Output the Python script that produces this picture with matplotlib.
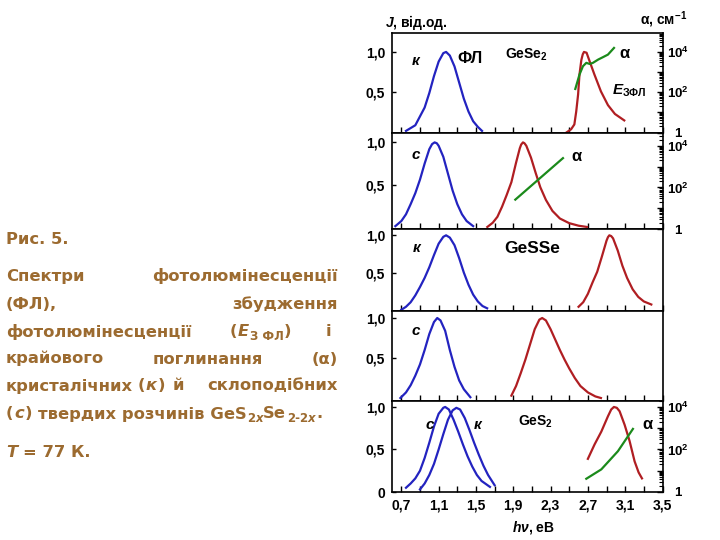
import matplotlib as mpl
mpl.use('Agg')
import numpy as np
import matplotlib.pyplot as plt
from matplotlib.ticker import FixedLocator, LogLocator, FuncFormatter, NullFormatter

plt.rcParams['font.family'] = ['Liberation Sans', 'DejaVu Sans']
plt.rcParams['font.weight'] = 'bold'
plt.rcParams['mathtext.fontset'] = 'custom'
plt.rcParams['mathtext.rm'] = 'Liberation Sans:bold'
plt.rcParams['mathtext.it'] = 'Liberation Sans:italic:bold'
plt.rcParams['mathtext.bf'] = 'Liberation Sans:bold'

# ---- data (photon energy in eV, J in rel. units, alpha in cm^-1) ----
# panel 1: GeSe2 crystal
p1_blue_x = [0.75, 0.85, 0.95, 1.00, 1.05, 1.10, 1.15, 1.18, 1.22, 1.27, 1.32, 1.37, 1.42, 1.47, 1.52, 1.565]
p1_blue_y = [0.02, 0.09, 0.31, 0.49, 0.70, 0.88, 0.985, 1.00, 0.955, 0.82, 0.62, 0.42, 0.26, 0.14, 0.07, 0.02]
p1_red_x = [2.47, 2.52, 2.555, 2.575, 2.595, 2.61, 2.63, 2.645, 2.658, 2.686, 2.72, 2.77, 2.84, 2.915, 2.99, 3.09]
p1_red_y = [0.0, 0.04, 0.10, 0.26, 0.47, 0.72, 0.90, 0.97, 1.00, 0.99, 0.88, 0.72, 0.51, 0.34, 0.23, 0.15]
p1_alpha_x = [2.565, 2.61, 2.647, 2.683, 2.72, 2.754, 2.81, 2.86, 2.915, 2.98]
p1_alpha = [145, 750, 1950, 2870, 2530, 2870, 4170, 5450, 7360, 15800]

# panel 2: GeSe2 glass
p2_blue_x = [0.636, 0.70, 0.75, 0.80, 0.85, 0.90, 0.95, 1.00, 1.03, 1.057, 1.08, 1.10, 1.15, 1.20, 1.25, 1.30, 1.35, 1.40, 1.47]
p2_blue_y = [0.01, 0.07, 0.15, 0.27, 0.40, 0.56, 0.75, 0.92, 0.98, 1.00, 0.99, 0.96, 0.83, 0.63, 0.43, 0.27, 0.15, 0.07, 0.01]
p2_red_x = [1.622, 1.68, 1.73, 1.78, 1.83, 1.88, 1.93, 1.97, 1.985, 2.004, 2.02, 2.04, 2.09, 2.14, 2.19, 2.25, 2.32, 2.40, 2.50, 2.60, 2.69]
p2_red_y = [0.0, 0.05, 0.12, 0.24, 0.38, 0.53, 0.76, 0.93, 0.975, 1.00, 0.99, 0.96, 0.82, 0.64, 0.47, 0.32, 0.19, 0.10, 0.045, 0.015, 0.0]
p2_alpha_x = [1.922, 2.433]
p2_alpha = [26, 2600]

# panel 3: GeSSe crystal
p3_blue_x = [0.70, 0.75, 0.80, 0.85, 0.90, 0.95, 1.00, 1.05, 1.10, 1.15, 1.18, 1.22, 1.27, 1.32, 1.37, 1.42, 1.47, 1.52, 1.57, 1.62]
p3_blue_y = [0.02, 0.06, 0.12, 0.21, 0.32, 0.44, 0.58, 0.74, 0.89, 0.98, 1.00, 0.97, 0.87, 0.70, 0.51, 0.35, 0.22, 0.13, 0.07, 0.04]
p3_red_x = [2.60, 2.65, 2.70, 2.75, 2.80, 2.85, 2.90, 2.915, 2.93, 2.95, 2.97, 3.02, 3.07, 3.12, 3.18, 3.24, 3.30, 3.38]
p3_red_y = [0.06, 0.12, 0.23, 0.38, 0.52, 0.72, 0.93, 0.975, 1.00, 0.99, 0.96, 0.80, 0.60, 0.44, 0.29, 0.19, 0.13, 0.09]

# panel 4: GeSSe glass
p4_blue_x = [0.69, 0.75, 0.80, 0.85, 0.90, 0.95, 1.00, 1.05, 1.085, 1.12, 1.17, 1.22, 1.27, 1.32, 1.37, 1.44]
p4_blue_y = [0.0, 0.07, 0.16, 0.28, 0.42, 0.60, 0.80, 0.95, 1.00, 0.97, 0.84, 0.60, 0.39, 0.22, 0.11, 0.01]
p4_red_x = [1.88, 1.93, 1.98, 2.03, 2.08, 2.13, 2.18, 2.21, 2.25, 2.30, 2.35, 2.40, 2.45, 2.50, 2.56, 2.62, 2.70, 2.78, 2.84]
p4_red_y = [0.03, 0.15, 0.31, 0.48, 0.67, 0.86, 0.98, 1.00, 0.97, 0.86, 0.73, 0.60, 0.48, 0.37, 0.25, 0.15, 0.07, 0.02, 0.0]

# panel 5: GeS2 glass (c) and crystal (k)
p5_glass_x = [0.75, 0.80, 0.85, 0.90, 0.95, 1.00, 1.05, 1.10, 1.15, 1.17, 1.21, 1.26, 1.31, 1.36, 1.41, 1.46, 1.51, 1.56, 1.65]
p5_glass_y = [0.05, 0.10, 0.16, 0.25, 0.40, 0.58, 0.77, 0.92, 0.99, 1.00, 0.97, 0.85, 0.71, 0.56, 0.42, 0.30, 0.20, 0.13, 0.06]
p5_cryst_x = [0.90, 0.95, 1.00, 1.05, 1.10, 1.15, 1.20, 1.25, 1.29, 1.33, 1.38, 1.43, 1.48, 1.53, 1.58, 1.63, 1.70]
p5_cryst_y = [0.03, 0.10, 0.20, 0.33, 0.50, 0.68, 0.85, 0.96, 0.99, 0.97, 0.87, 0.73, 0.58, 0.44, 0.31, 0.20, 0.08]
p5_red_x = [2.70, 2.772, 2.844, 2.915, 2.95, 2.979, 3.01, 3.04, 3.094, 3.147, 3.201, 3.244, 3.28]
p5_red_y = [0.39, 0.56, 0.71, 0.89, 0.97, 1.00, 0.99, 0.95, 0.79, 0.60, 0.36, 0.23, 0.16]
p5_alpha_x = [2.683, 2.844, 3.022, 3.183]
p5_alpha = [4.2, 11.6, 83, 930]

blue = '#2323c0'
red = '#b01e22'
green = '#1b8a1b'
brown = '#9c6b30'

W, H = 720, 540
fig = plt.figure(figsize=(7.2, 5.4), dpi=100)

def fx(px):
    return px / W

def fy(py):
    return 1 - py / H

# panel borders in pixels (top of each panel, then bottom of last)
edges = [33, 132.5, 229, 310.5, 400.5, 492]
ylims = [(0.0, 1.235), (-0.024, 1.117), (0.011, 1.083), (-0.031, 1.094), (0.0035, 1.076)]
x0, x1 = 392, 662.5

axes = []
for i in range(5):
    ax = fig.add_axes([fx(x0), fy(edges[i + 1]), (x1 - x0) / W, (edges[i + 1] - edges[i]) / H])
    ax.set_xlim(0.6, 3.5)
    ax.set_ylim(*ylims[i])
    ax.xaxis.set_major_locator(FixedLocator(np.arange(0.7, 3.51, 0.4)))
    ax.xaxis.set_minor_locator(FixedLocator(np.arange(0.9, 3.4, 0.4)))
    ax.tick_params(axis='x', which='both', direction='in', length=4, width=1, top=False,
                   labelsize=10, pad=5)
    if i < 4:
        ax.tick_params(axis='x', labelbottom=False)
        ax.set_yticks([0.5, 1.0])
        ax.set_yticklabels(['0,5', '1,0'])
    else:
        ax.xaxis.set_major_formatter(FuncFormatter(lambda v, p: ('%.1f' % v).replace('.', ',')))
        ax.set_yticks([0.0, 0.5, 1.0])
        ax.set_yticklabels(['0', '0,5', '1,0'])
    ax.tick_params(axis='y', direction='in', length=3, width=1, labelsize=10, pad=5)
    for sp in ax.spines.values():
        sp.set_linewidth(1.2)
    axes.append(ax)

def alpha_axis(ax, top):
    tw = ax.twinx()
    tw.set_yscale('log')
    tw.set_ylim(1, top)
    tw.yaxis.set_major_locator(FixedLocator([1, 10, 100, 1000, 10000]))
    lab = {1: '1', 100: '$10^2$', 10000: '$10^4$'}
    tw.yaxis.set_major_formatter(FuncFormatter(lambda v, p: lab.get(int(round(v)), '')))
    tw.yaxis.set_minor_locator(LogLocator(base=10, subs=np.arange(2, 10), numticks=30))
    tw.yaxis.set_minor_formatter(NullFormatter())
    tw.tick_params(axis='y', which='major', direction='in', length=4, width=1, labelsize=9.5, pad=11)
    tw.tick_params(axis='y', which='minor', direction='in', length=3, width=0.8)
    for t in tw.get_yticklabels():
        t.set_horizontalalignment('center')
    for sp in tw.spines.values():
        sp.set_visible(False)
    return tw

lw = 1.6
# panel 1
ax = axes[0]
ax.plot(p1_blue_x, p1_blue_y, color=blue, lw=lw)
ax.plot(p1_red_x, p1_red_y, color=red, lw=lw)
tw = alpha_axis(ax, 10 ** (4 * 1.235))
tw.plot(p1_alpha_x, p1_alpha, color=green, lw=lw)
ax.text(0.857, 0.89, 'к', style='italic', fontsize=11, ha='center', va='center')
ax.text(1.433, 0.915, 'ФЛ', fontsize=12, ha='center', va='center')
ax.text(1.808, 0.967, 'GeSe$_2$', fontsize=10, ha='left', va='center')
ax.text(3.092, 0.98, 'α', fontsize=12, ha='center', va='center')
ax.text(2.958, 0.52, '$E_{\\mathrm{ЗФЛ}}$', fontsize=11, ha='left', va='center')

# panel 2
ax = axes[1]
ax.plot(p2_blue_x, p2_blue_y, color=blue, lw=lw)
ax.plot(p2_red_x, p2_red_y, color=red, lw=lw)
tw = alpha_axis(ax, 10 ** 4.65)
tw.plot(p2_alpha_x, p2_alpha, color=green, lw=lw)
ax.text(0.85, 0.85, 'c', style='italic', fontsize=11, ha='center', va='center')
ax.text(2.583, 0.83, 'α', fontsize=12, ha='center', va='center')

# panel 3
ax = axes[2]
ax.plot(p3_blue_x, p3_blue_y, color=blue, lw=lw)
ax.plot(p3_red_x, p3_red_y, color=red, lw=lw)
ax.text(0.865, 0.837, 'к', style='italic', fontsize=11, ha='center', va='center')
ax.text(1.808, 0.826, 'GeSSe', fontsize=12.5, ha='left', va='center')

# panel 4
ax = axes[3]
ax.plot(p4_blue_x, p4_blue_y, color=blue, lw=lw)
ax.plot(p4_red_x, p4_red_y, color=red, lw=lw)
ax.text(0.852, 0.834, 'c', style='italic', fontsize=11, ha='center', va='center')

# panel 5
ax = axes[4]
ax.plot(p5_glass_x, p5_glass_y, color=blue, lw=lw)
ax.plot(p5_cryst_x, p5_cryst_y, color=blue, lw=lw)
ax.plot(p5_red_x, p5_red_y, color=red, lw=lw)
tw = alpha_axis(ax, 10 ** (4 * (1.076 - 0.0035) / 0.9965))
tw.plot(p5_alpha_x, p5_alpha, color=green, lw=lw)
ax.text(1.004, 0.783, 'c', style='italic', fontsize=11, ha='center', va='center')
ax.text(1.522, 0.79, 'к', style='italic', fontsize=11, ha='center', va='center')
ax.text(1.95, 0.83, 'GeS$_2$', fontsize=10, ha='left', va='center')
ax.text(3.344, 0.79, 'α', fontsize=12, ha='center', va='center')

# axis titles
fig.text(fx(385), fy(22), '$J$, від.од.', fontsize=10, ha='left', va='center')
fig.text(fx(640), fy(20), 'α, см$^{-1}$', fontsize=10, ha='left', va='center')
fig.text(fx(533), fy(528), '$h\\nu$, eB', fontsize=10, ha='center', va='center')

# caption on the left, justified by hand; pieces are (text, italic, subscript, gap before)
cap_size = 11.8
sub_size = 8.5
renderer = fig.canvas.get_renderer()

def put_runs(xp, yb, runs, ha='left'):
    objs = []
    x = 0.0
    for txt, ital, sub, gap in runs:
        x += gap
        t = fig.text(0, 0, txt, family='DejaVu Sans', fontweight='bold', color=brown,
                     fontsize=sub_size if sub else cap_size,
                     style='italic' if ital else 'normal', va='baseline', ha='left')
        objs.append((t, x, 3.5 if sub else 0.0))
        x += t.get_window_extent(renderer).width
    start = xp - x if ha == 'right' else xp
    for t, off, drop in objs:
        t.set_position((fx(start + off), fy(yb + drop)))

def word(xp, yb, txt, ha='left'):
    put_runs(xp, yb, [(txt, False, False, 0)], ha)

word(6, 244, 'Рис. 5.')
word(6, 281.5, 'Спектри')
word(338, 281.5, 'фотолюмінесценції', 'right')
word(6, 309, '(ФЛ),')
word(338, 309, 'збудження', 'right')
word(6, 336.5, 'фотолюмінесценції')
put_runs(230, 336.5, [('(', False, False, 0), ('E', True, False, 0.5), ('З ФЛ', False, True, 0.5),
                      (')', False, False, 0.5)])
word(331, 336.5, 'і', 'right')
word(6, 363.5, 'крайового')
word(153, 363.5, 'поглинання')
word(338, 363.5, '(α)', 'right')
word(6, 390.5, 'кристалічних')
put_runs(138, 390.5, [('(', False, False, 0), ('к', True, False, 0.5), (')', False, False, 0.5)])
word(173, 390.5, 'й')
word(338, 390.5, 'склоподібних', 'right')
put_runs(6, 418.5, [('(', False, False, 0), ('с', True, False, 0.5), (')', False, False, 0.5),
                    ('твердих розчинів GeS', False, False, 6), ('2', False, True, 0.5),
                    ('x', True, True, 0), ('Se', False, False, 0.5), ('2-2', False, True, 0.5),
                    ('x', True, True, 0), ('.', False, False, 0.5)])
put_runs(6, 457, [('T', True, False, 0), ('= 77 К.', False, False, 6)])

fig.savefig('out.png', dpi=100)
plt.close(fig)
